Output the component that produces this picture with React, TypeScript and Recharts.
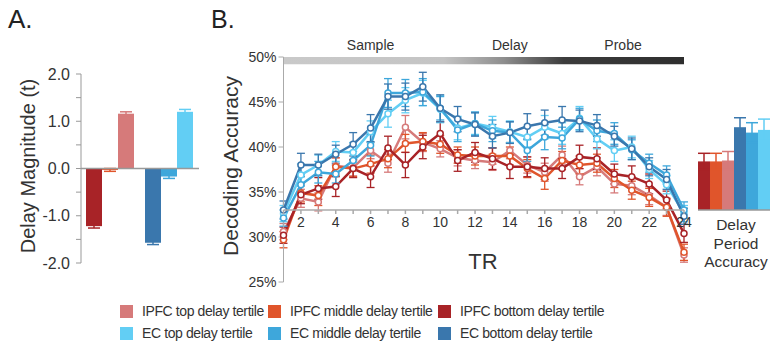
import {
  BarChart,
  Bar,
  LineChart,
  Line,
  XAxis,
  YAxis,
  ErrorBar,
  ReferenceLine,
  ReferenceArea,
} from "recharts";

const FONT = '"Liberation Sans", Arial, Helvetica, sans-serif';

// ---- Panel A: delay magnitude (t) per region and tertile ----
const magnitudeRegions = ["IPFC", "EC"];
const magnitudeBottom = [-1.22, -1.57];
const magnitudeMiddle = [-0.03, -0.17];
const magnitudeTop = [1.16, 1.2];
const magnitudeBottomErr = [0.04, 0.04];
const magnitudeMiddleErr = [0.03, 0.04];
const magnitudeTopErr = [0.04, 0.05];
const magnitudeTicks = [-2, -1.5, -1, -0.5, 0, 0.5, 1, 1.5, 2];

// ---- Panel B: decoding accuracy per TR ----
const trs = [1, 2, 3, 4, 5, 6, 7, 8, 9, 10, 11, 12, 13, 14, 15, 16, 17, 18, 19, 20, 21, 22, 23, 24];
const ipfcTop = [30.6, 34.3, 33.9, 37.9, 37.7, 39.6, 38.2, 42.2, 40.5, 39.8, 38.8, 38.5, 38.3, 39.6, 38.0, 37.2, 39.1, 36.7, 37.8, 35.9, 35.7, 34.6, 33.3, 28.0];
const ipfcMiddle = [29.7, 34.9, 34.6, 37.8, 37.6, 38.1, 38.7, 40.4, 40.6, 40.3, 39.1, 39.0, 39.0, 39.0, 37.6, 36.5, 38.5, 38.0, 38.2, 36.5, 35.2, 34.4, 33.3, 28.3];
const ipfcBottom = [30.2, 34.7, 35.4, 35.6, 37.6, 36.7, 39.9, 38.0, 40.0, 41.5, 38.5, 39.4, 38.7, 37.8, 37.8, 37.6, 37.6, 38.9, 38.7, 37.0, 36.7, 35.9, 34.1, 30.4];
const ecTop = [32.6, 36.9, 38.0, 39.5, 39.4, 41.7, 43.7, 45.2, 46.0, 44.2, 42.1, 42.6, 42.2, 41.7, 41.1, 42.2, 41.5, 43.2, 40.9, 39.6, 40.0, 37.5, 35.8, 32.6];
const ecMiddle = [32.1, 35.8, 37.2, 37.0, 38.5, 40.2, 46.0, 46.0, 46.1, 44.3, 41.9, 42.6, 41.8, 41.6, 39.6, 41.1, 41.0, 43.1, 41.8, 41.5, 39.7, 38.2, 36.9, 33.0];
const ecBottom = [33.0, 38.0, 38.0, 39.2, 40.3, 42.1, 45.6, 45.6, 46.7, 44.3, 43.1, 42.5, 41.2, 41.6, 42.3, 42.7, 43.0, 42.9, 42.4, 41.2, 39.8, 37.8, 36.4, 32.3];

const ipfcTopErr = [0.9, 1.0, 1.0, 0.9, 0.9, 0.9, 1.0, 1.3, 1.0, 0.9, 0.9, 0.9, 0.9, 0.9, 0.9, 1.0, 1.0, 0.9, 1.0, 1.0, 1.0, 1.0, 0.9, 0.8];
const ipfcMiddleErr = [0.9, 1.0, 1.1, 1.0, 0.9, 1.0, 1.0, 1.0, 1.0, 1.0, 0.9, 1.0, 0.9, 1.0, 1.0, 1.2, 1.0, 1.0, 1.0, 1.0, 1.0, 1.0, 1.0, 0.9];
const ipfcBottomErr = [0.9, 1.0, 1.2, 1.1, 1.0, 1.2, 1.3, 1.4, 1.3, 1.3, 1.2, 1.1, 1.2, 1.3, 1.1, 1.2, 1.1, 1.3, 1.2, 1.1, 1.2, 1.1, 1.0, 1.0];
const ecTopErr = [0.9, 1.2, 1.1, 1.1, 1.1, 1.2, 1.5, 1.4, 1.4, 1.5, 1.3, 1.2, 1.2, 1.2, 1.1, 1.3, 1.2, 1.3, 1.1, 1.2, 1.2, 1.0, 1.0, 0.9];
const ecMiddleErr = [0.9, 1.1, 1.2, 1.0, 1.0, 1.2, 1.6, 1.5, 1.5, 1.3, 1.3, 1.3, 1.2, 1.2, 1.2, 1.4, 1.2, 1.2, 1.2, 1.2, 1.1, 1.0, 1.0, 0.9];
const ecBottomErr = [1.0, 1.3, 1.2, 1.0, 1.3, 1.5, 1.4, 1.5, 1.6, 1.5, 1.4, 1.3, 1.3, 1.2, 1.4, 1.4, 1.5, 1.2, 1.2, 1.1, 1.2, 1.0, 1.1, 0.9];

const accuracyTicks = [25, 30, 35, 40, 45, 50];

const phaseNames = ["Sample", "Delay", "Probe"];
const phaseStart = [1, 11, 17];
const phaseEnd = [11, 17, 24];

// ---- Inset: delay period accuracy, same order as barKeys ----
const delayPeriodValues = [38.4, 38.4, 38.5, 42.2, 41.6, 41.9];
const delayPeriodErrors = [0.9, 0.9, 1.0, 1.05, 1.1, 1.2];

const series = [
  { key: "ipfcTop", name: "IPFC top delay tertile", color: "#d67a7a", values: ipfcTop, err: ipfcTopErr },
  { key: "ipfcMiddle", name: "IPFC middle delay tertile", color: "#e0552b", values: ipfcMiddle, err: ipfcMiddleErr },
  { key: "ipfcBottom", name: "IPFC bottom delay tertile", color: "#a82327", values: ipfcBottom, err: ipfcBottomErr },
  { key: "ecTop", name: "EC top delay tertile", color: "#62cef4", values: ecTop, err: ecTopErr },
  { key: "ecMiddle", name: "EC middle delay tertile", color: "#3ea7db", values: ecMiddle, err: ecMiddleErr },
  { key: "ecBottom", name: "EC bottom delay tertile", color: "#3a77ad", values: ecBottom, err: ecBottomErr },
];

const colorOf = (key: string) => series.find((s) => s.key === key)!.color;

const lineData = trs.map((tr, i) => {
  const row: Record<string, number> = { tr };
  series.forEach((s) => {
    row[s.key] = s.values[i];
    row[s.key + "Err"] = s.err[i];
  });
  return row;
});

// bars ordered bottom, middle, top within each region
const barKeys = ["ipfcBottom", "ipfcMiddle", "ipfcTop", "ecBottom", "ecMiddle", "ecTop"];

const magnitudeData = magnitudeRegions.map((region, i) => {
  const p = region === "IPFC" ? "ipfc" : "ec";
  return {
    region,
    [p + "Bottom"]: magnitudeBottom[i],
    [p + "Middle"]: magnitudeMiddle[i],
    [p + "Top"]: magnitudeTop[i],
    [p + "BottomErr"]: magnitudeBottomErr[i],
    [p + "MiddleErr"]: magnitudeMiddleErr[i],
    [p + "TopErr"]: magnitudeTopErr[i],
  };
});

const delayData = [
  barKeys.reduce(
    (row, k, i) => ({ ...row, [k]: delayPeriodValues[i], [k + "Err"]: delayPeriodErrors[i] }),
    { name: "delay" } as Record<string, any>
  ),
];

const legendOrder = [
  ["ipfcTop", "ipfcMiddle", "ipfcBottom"],
  ["ecTop", "ecMiddle", "ecBottom"],
];
const legendSquareX = [120, 268, 438];
const legendRowY = [311, 333];

function MagnitudePanel() {
  return (
    <BarChart
      width={200}
      height={280}
      data={magnitudeData}
      margin={{ top: 74, right: 1, left: 0, bottom: 17 }}
      barGap={0}
      barCategoryGap={5}
      style={{ position: "absolute", left: 0, top: 0 }}
    >
      <XAxis xAxisId="ipfc" dataKey="region" hide />
      <XAxis xAxisId="ec" dataKey="region" hide />
      <YAxis
        width={81}
        domain={[-2, 2]}
        ticks={magnitudeTicks}
        interval={0}
        tickFormatter={(v: number) => (Number.isInteger(v) ? v.toFixed(1) : "")}
        stroke="#999"
        tickSize={5}
        tickMargin={6}
        tick={{ fill: "#333", fontSize: 16, fontFamily: FONT }}
      />
      {barKeys.map((k) => (
        <Bar
          key={k}
          dataKey={k}
          xAxisId={k.startsWith("ipfc") ? "ipfc" : "ec"}
          fill={colorOf(k)}
          isAnimationActive={false}
        >
          <ErrorBar dataKey={k + "Err"} width={6} strokeWidth={1.5} stroke={colorOf(k)} />
        </Bar>
      ))}
      <ReferenceLine y={0} xAxisId="ipfc" stroke="#999" strokeWidth={1.5} />
    </BarChart>
  );
}

function AccuracyPanel() {
  return (
    <>
      <LineChart
        width={490}
        height={300}
        data={lineData}
        margin={{ top: 57, right: 6, left: 0, bottom: 18 }}
        style={{ position: "absolute", left: 200, top: 0 }}
      >
        <defs>
          <linearGradient id="phaseGradient" x1="0" y1="0" x2="1" y2="0">
            <stop offset="0" stopColor="#c9c9c9" />
            <stop offset="0.4" stopColor="#c4c4c4" />
            <stop offset="0.55" stopColor="#8e8e8e" />
            <stop offset="0.7" stopColor="#3c3c3c" />
            <stop offset="1" stopColor="#2e2e2e" />
          </linearGradient>
        </defs>
        <XAxis dataKey="tr" type="number" domain={[1, 24]} hide />
        <YAxis
          width={83.5}
          domain={[25, 50]}
          ticks={accuracyTicks}
          interval={0}
          tickFormatter={(v: number) => `${v}%`}
          stroke="#aaa"
          tickSize={5}
          tickMargin={2}
          tick={{ fill: "#333", fontSize: 14, fontFamily: FONT }}
        />
        <ReferenceArea
          x1={1}
          x2={24}
          y1={49.2}
          y2={50}
          fill="url(#phaseGradient)"
          fillOpacity={1}
          stroke="none"
        />
        {phaseNames.map((name, i) => (
          <ReferenceArea
            key={name}
            x1={phaseStart[i]}
            x2={phaseEnd[i]}
            y1={49.2}
            y2={50}
            fillOpacity={0}
            stroke="none"
            label={{ value: name, position: "top", offset: 7, fill: "#333", fontSize: 14, fontFamily: FONT }}
          />
        ))}
        {series.map((s) => (
          <Line
            key={s.key}
            type="linear"
            dataKey={s.key}
            name={s.name}
            stroke={s.color}
            strokeWidth={2.5}
            dot={{ r: 3, fill: "#fff", stroke: s.color, strokeWidth: 1.5 }}
            isAnimationActive={false}
          >
            <ErrorBar dataKey={s.key + "Err"} direction="y" width={4} strokeWidth={1.3} stroke={s.color} />
          </Line>
        ))}
      </LineChart>

      {/* TR axis drawn at the 33% level */}
      <LineChart
        width={500}
        height={240}
        data={lineData}
        margin={{ top: 57, right: 16, left: 83.5, bottom: 0 }}
        style={{ position: "absolute", left: 200, top: 0, pointerEvents: "none" }}
      >
        <XAxis
          dataKey="tr"
          type="number"
          domain={[1, 24]}
          ticks={trs}
          interval={0}
          tickFormatter={(v: number) => (v % 2 === 0 ? String(v) : "")}
          height={30}
          stroke="#aaa"
          strokeWidth={1.5}
          tickSize={4}
          tickMargin={3}
          tick={{ fill: "#333", fontSize: 14, fontFamily: FONT }}
        />
        <YAxis hide domain={[33, 50]} />
      </LineChart>

      <BarChart
        width={81}
        height={211}
        data={delayData}
        margin={{ top: 57, right: 1, left: 8, bottom: 1 }}
        barGap={0}
        barCategoryGap={0}
        style={{ position: "absolute", left: 690, top: 0 }}
      >
        <XAxis dataKey="name" hide />
        <YAxis hide domain={[33, 50]} allowDataOverflow />
        {barKeys.map((k) => (
          <Bar key={k} dataKey={k} fill={colorOf(k)} isAnimationActive={false}>
            <ErrorBar dataKey={k + "Err"} width={6} strokeWidth={1.5} stroke={colorOf(k)} />
          </Bar>
        ))}
        <ReferenceLine y={33} stroke="#999" strokeWidth={1.5} />
      </BarChart>
    </>
  );
}

export default function App() {
  const text = { position: "absolute" as const, fontFamily: FONT, color: "#333", whiteSpace: "nowrap" as const };
  return (
    <div
      style={{
        position: "absolute",
        left: 0,
        top: 0,
        width: 771,
        height: 350,
        background: "#fff",
        overflow: "hidden",
        fontFamily: FONT,
      }}
    >
      <div style={{ ...text, left: 8, top: 6, fontSize: 26, lineHeight: 1, color: "#222" }}>A.</div>
      <div style={{ ...text, left: 211, top: 7, fontSize: 25, lineHeight: 1, color: "#222" }}>B.</div>

      <MagnitudePanel />
      <AccuracyPanel />

      <div
        style={{
          ...text,
          left: 28,
          top: 166,
          fontSize: 20,
          lineHeight: 1,
          transform: "translate(-50%, -50%) rotate(-90deg)",
        }}
      >
        Delay Magnitude (t)
      </div>
      <div
        style={{
          ...text,
          left: 230,
          top: 166,
          fontSize: 21,
          lineHeight: 1,
          transform: "translate(-50%, -50%) rotate(-90deg)",
        }}
      >
        Decoding Accuracy
      </div>
      <div style={{ ...text, left: 483, top: 262, fontSize: 22, lineHeight: 1, transform: "translate(-50%, -50%)" }}>
        TR
      </div>
      <div
        style={{
          ...text,
          left: 736,
          top: 216,
          fontSize: 15.5,
          lineHeight: "18.5px",
          textAlign: "center",
          transform: "translateX(-50%)",
        }}
      >
        Delay
        <br />
        Period
        <br />
        Accuracy
      </div>

      {legendOrder.map((row, r) =>
        row.map((k, c) => {
          const s = series.find((x) => x.key === k)!;
          return (
            <div key={k}>
              <div
                style={{
                  position: "absolute",
                  left: legendSquareX[c],
                  top: legendRowY[r] - 6.5,
                  width: 13,
                  height: 13,
                  background: s.color,
                }}
              />
              <div
                style={{
                  ...text,
                  left: legendSquareX[c] + 22,
                  top: legendRowY[r],
                  fontSize: 14,
                  letterSpacing: "-0.4px",
                  lineHeight: 1,
                  transform: "translateY(-50%)",
                }}
              >
                {s.name}
              </div>
            </div>
          );
        })
      )}
    </div>
  );
}
